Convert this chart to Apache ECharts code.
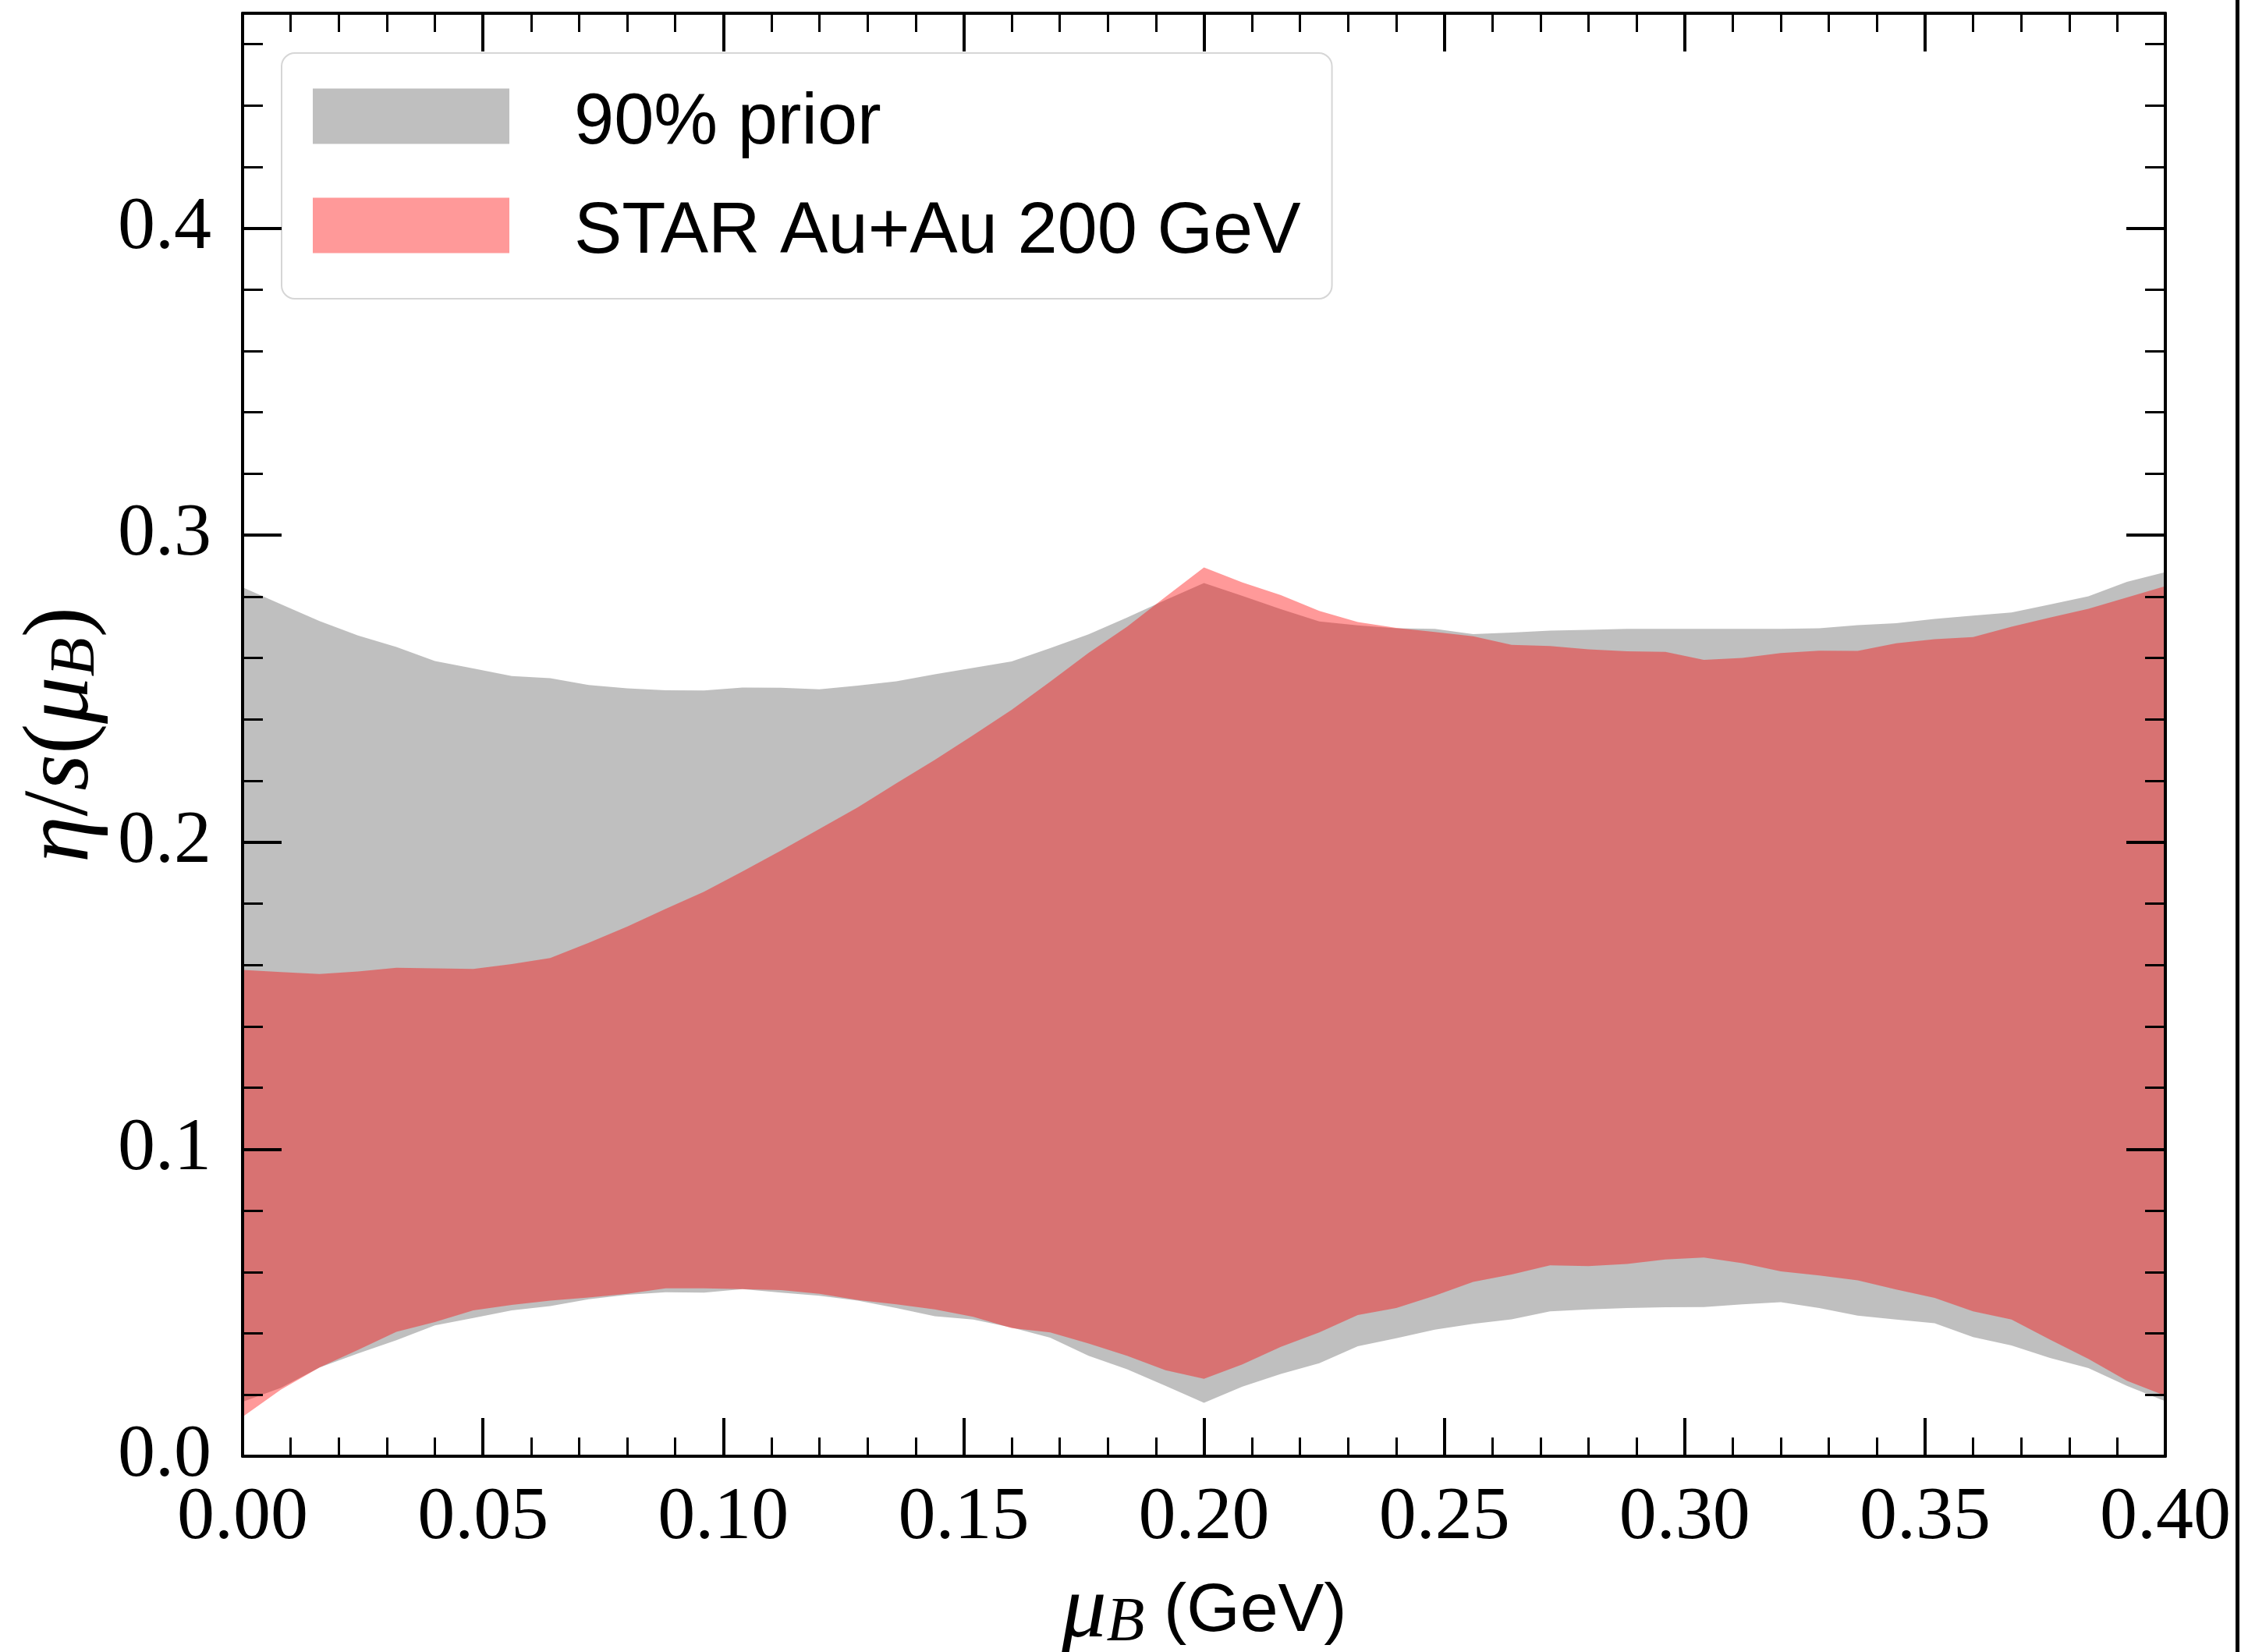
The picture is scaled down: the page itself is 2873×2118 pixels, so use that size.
<!DOCTYPE html>
<html>
<head>
<meta charset="utf-8">
<script src="https://cdn.jsdelivr.net/npm/echarts@6/dist/echarts.min.js"></script>
<style>
  html, body { margin: 0; padding: 0; background: #fff; }
  #chart { width: 2873px; height: 2118px; }
</style>
</head>
<body>
<div id="chart"></div>
<script>
// Baryon chemical potential grid (GeV)
const muB = [
  0.000, 0.008, 0.016, 0.024, 0.032, 0.040, 0.048, 0.056, 0.064, 0.072,
  0.080, 0.088, 0.096, 0.104, 0.112, 0.120, 0.128, 0.136, 0.144, 0.152,
  0.160, 0.168, 0.176, 0.184, 0.192, 0.200, 0.208, 0.216, 0.224, 0.232,
  0.240, 0.248, 0.256, 0.264, 0.272, 0.280, 0.288, 0.296, 0.304, 0.312,
  0.320, 0.328, 0.336, 0.344, 0.352, 0.360, 0.368, 0.376, 0.384, 0.392,
  0.400
];

// 90% prior band of eta/s(muB)
const priorLower = [
  0.0177, 0.0223, 0.0289, 0.0335, 0.0378, 0.0426, 0.0450, 0.0475, 0.0489, 0.0511,
  0.0526, 0.0534, 0.0533, 0.0544, 0.0533, 0.0523, 0.0507, 0.0483, 0.0456, 0.0445,
  0.0419, 0.0386, 0.0327, 0.0283, 0.0229, 0.0174, 0.0227, 0.0268, 0.0303, 0.0358,
  0.0384, 0.0412, 0.0431, 0.0446, 0.0472, 0.0478, 0.0483, 0.0485, 0.0486, 0.0495,
  0.0502, 0.0483, 0.0458, 0.0445, 0.0433, 0.0388, 0.0361, 0.0320, 0.0287, 0.0229,
  0.0179
];
const priorUpper = [
  0.2830, 0.2775, 0.2720, 0.2673, 0.2636, 0.2590, 0.2566, 0.2541, 0.2534, 0.2512,
  0.2501, 0.2495, 0.2494, 0.2504, 0.2503, 0.2498, 0.2510, 0.2524, 0.2547, 0.2568,
  0.2589, 0.2632, 0.2677, 0.2732, 0.2789, 0.2844, 0.2802, 0.2759, 0.2719, 0.2706,
  0.2697, 0.2695, 0.2678, 0.2683, 0.2689, 0.2692, 0.2695, 0.2695, 0.2695, 0.2695,
  0.2695, 0.2697, 0.2707, 0.2713, 0.2727, 0.2738, 0.2748, 0.2774, 0.2801, 0.2848,
  0.2880
];

// Posterior band constrained by STAR Au+Au 200 GeV
const starLower = [
  0.0128, 0.0217, 0.0289, 0.0346, 0.0405, 0.0437, 0.0475, 0.0493, 0.0507, 0.0517,
  0.0529, 0.0547, 0.0547, 0.0544, 0.0541, 0.0529, 0.0509, 0.0495, 0.0478, 0.0454,
  0.0417, 0.0403, 0.0367, 0.0327, 0.0280, 0.0252, 0.0299, 0.0356, 0.0403, 0.0460,
  0.0483, 0.0523, 0.0568, 0.0592, 0.0622, 0.0619, 0.0626, 0.0641, 0.0647, 0.0629,
  0.0602, 0.0589, 0.0573, 0.0543, 0.0516, 0.0472, 0.0445, 0.0380, 0.0317, 0.0246,
  0.0197
];
const starUpper = [
  0.1584, 0.1577, 0.1571, 0.1579, 0.1591, 0.1589, 0.1587, 0.1603, 0.1623, 0.1672,
  0.1725, 0.1783, 0.1839, 0.1905, 0.1973, 0.2043, 0.2114, 0.2192, 0.2268, 0.2349,
  0.2431, 0.2523, 0.2617, 0.2702, 0.2799, 0.2895, 0.2846, 0.2805, 0.2753, 0.2717,
  0.2698, 0.2685, 0.2671, 0.2643, 0.2639, 0.2628, 0.2622, 0.2620, 0.2594, 0.2600,
  0.2616, 0.2624, 0.2623, 0.2648, 0.2661, 0.2668, 0.2702, 0.2732, 0.2760, 0.2797,
  0.2834
];

const bandNames = ['90% prior', 'STAR Au+Au 200 GeV'];

const SERIF = 'Liberation Serif';
const SANS = 'Liberation Sans';

// One filled polygon per band: upper edge left-to-right, lower edge back
function bandSeries(name, lower, upper, fill, swatch) {
  return {
    name: name,
    type: 'custom',
    coordinateSystem: 'cartesian2d',
    xAxisIndex: 0,
    yAxisIndex: 0,
    data: muB.map((x, i) => [x, lower[i], upper[i]]),
    encode: { x: 0, y: [1, 2] },
    itemStyle: { color: swatch },
    silent: true,
    renderItem: function (params, api) {
      if (params.dataIndex !== 0) return null;
      const pts = [];
      for (let i = 0; i < muB.length; i++) pts.push(api.coord([muB[i], upper[i]]));
      for (let i = muB.length - 1; i >= 0; i--) pts.push(api.coord([muB[i], lower[i]]));
      return {
        type: 'polygon',
        shape: { points: pts },
        style: { fill: fill, stroke: null, lineWidth: 0 },
        silent: true
      };
    }
  };
}

const tickLine = { color: '#000', width: 4 };
const minorLine = { color: '#000', width: 3 };

function xAxisDef(position, showLabels) {
  return {
    type: 'value', position: position, min: 0, max: 0.4, interval: 0.05,
    z: 10,
    axisLine: { show: true, onZero: false, lineStyle: { color: '#000', width: 4 } },
    axisTick: { show: true, inside: true, length: 49, lineStyle: tickLine },
    minorTick: { show: true, splitNumber: 5, length: 24, lineStyle: minorLine },
    splitLine: { show: false }, minorSplitLine: { show: false },
    axisLabel: {
      show: showLabels, margin: 32, color: '#000',
      fontFamily: SERIF, fontSize: 96, lineHeight: 96,
      formatter: v => v.toFixed(2)
    }
  };
}

function yMajor(position, showLabels) {
  return {
    type: 'value', position: position, min: 0, max: 0.47, interval: 0.1,
    z: 10,
    axisLine: { show: true, onZero: false, lineStyle: { color: '#000', width: 4 } },
    axisTick: { show: true, inside: true, length: 50, lineStyle: tickLine },
    splitLine: { show: false },
    axisLabel: {
      show: showLabels, margin: 40, color: '#000', showMaxLabel: false,
      fontFamily: SERIF, fontSize: 96, lineHeight: 96,
      formatter: v => (Math.abs(v * 10 - Math.round(v * 10)) < 1e-6 ? v.toFixed(1) : '')
    }
  };
}

function yMinor(position) {
  return {
    type: 'value', position: position, min: 0, max: 0.47, interval: 0.02,
    z: 10,
    axisLine: { show: false, onZero: false },
    axisTick: { show: true, inside: true, length: 26, lineStyle: minorLine },
    splitLine: { show: false },
    axisLabel: { show: false }
  };
}

const xBottom = xAxisDef('bottom', true);
xBottom.name = '{mi|μ}{sub|B}{rm| (GeV)}';
xBottom.nameLocation = 'middle';
xBottom.nameGap = 145;
xBottom.nameTextStyle = {
  color: '#000', fontFamily: SERIF, fontSize: 110, lineHeight: 110,
  rich: {
    mi: { fontFamily: SERIF, fontStyle: 'italic', fontSize: 116, lineHeight: 110, color: '#000' },
    sub: { fontFamily: SERIF, fontStyle: 'italic', fontSize: 80, lineHeight: 60, verticalAlign: 'bottom', color: '#000' },
    rm: { fontFamily: SANS, fontSize: 88, lineHeight: 110, color: '#000' }
  }
};

const yLeft = yMajor('left', true);
yLeft.name = '{mi|η}{op|/}{mi|s}{op|(}{mi|μ}{sub|B}{op|)}';
yLeft.nameLocation = 'middle';
yLeft.nameRotate = 90;
yLeft.nameGap = 158;
yLeft.nameTextStyle = {
  color: '#000', fontFamily: SERIF, fontSize: 120, lineHeight: 118,
  rich: {
    mi: { fontFamily: SERIF, fontStyle: 'italic', fontSize: 120, lineHeight: 118, color: '#000' },
    op: { fontFamily: SERIF, fontSize: 118, lineHeight: 118, color: '#000' },
    sub: { fontFamily: SERIF, fontStyle: 'italic', fontSize: 82, lineHeight: 62, verticalAlign: 'bottom', color: '#000' }
  }
};

// Legend swatch: filled 252x71 box in the upper part of a 252x91 icon cell
// (the zero-area segment along the bottom only fixes the cell height)
const SWATCH_ICON = 'path://M0,0L252,0L252,71L0,71Z M0,91L252,91L0,91Z';

const chart = echarts.init(document.getElementById('chart'), null, { renderer: 'canvas' });

chart.setOption({
  animation: false,
  backgroundColor: '#fff',
  grid: { left: 311, top: 17, width: 2465, height: 1850, containLabel: false, outerBoundsMode: 'none' },
  xAxis: [xBottom, xAxisDef('top', false)],
  yAxis: [yLeft, yMinor('left'), yMajor('right', false), yMinor('right')],
  legend: {
    orient: 'vertical',
    left: 361, top: 68,
    padding: [45, 40, 38, 40],
    itemWidth: 252, itemHeight: 91, itemGap: 48,
    icon: SWATCH_ICON,
    selectedMode: false,
    backgroundColor: 'rgba(255,255,255,0.8)',
    borderColor: '#d6d6d6', borderWidth: 2, borderRadius: 17,
    textStyle: {
      fontFamily: SANS, fontSize: 92, color: '#000',
      padding: [0, 0, 0, 78]
    },
    data: [
      { name: bandNames[0], itemStyle: { color: '#bfbfbf', borderWidth: 0, opacity: 1 } },
      { name: bandNames[1], itemStyle: { color: '#ff9999', borderWidth: 0, opacity: 1 } }
    ]
  },
  graphic: [
    {
      type: 'rect', silent: true, z: 100,
      shape: { x: 2866, y: 0, width: 5, height: 2118 },
      style: { fill: '#000' }
    }
  ],
  series: [
    bandSeries(bandNames[0], priorLower, priorUpper, 'rgba(128,128,128,0.5)', '#bfbfbf'),
    bandSeries(bandNames[1], starLower, starUpper, 'rgba(255,0,0,0.4)', '#ff9999')
  ]
});
</script>
</body>
</html>
